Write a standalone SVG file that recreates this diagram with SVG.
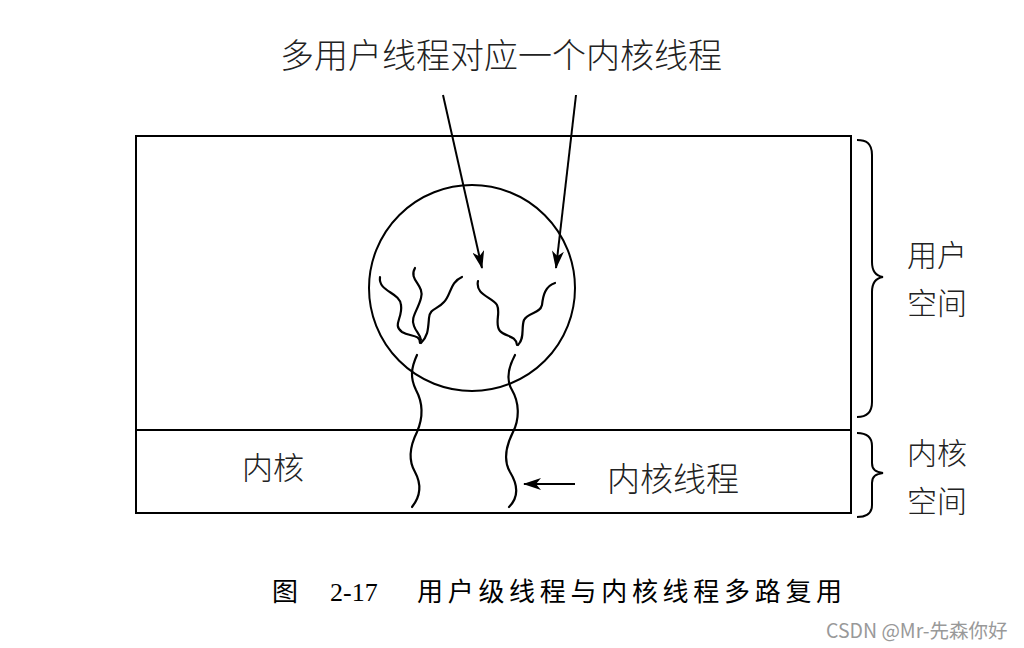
<svg xmlns="http://www.w3.org/2000/svg" width="1024" height="648" viewBox="0 0 1024 648">
<style>
.ln{fill:none;stroke:#000;stroke-width:2}
.th{fill:none;stroke:#000;stroke-width:2.2;stroke-linecap:round}
.t{font-family:"Noto Sans CJK SC","Noto Sans",sans-serif;fill:#222;font-weight:300}
.cap{font-family:"Liberation Serif","Noto Sans CJK SC",serif;fill:#000}
</style>
<defs>
<marker id="ah" markerWidth="18" markerHeight="12" refX="17" refY="6" orient="auto" markerUnits="userSpaceOnUse">
<path d="M0,0 L18,6 L0,12 L5,6 Z" fill="#000"/>
</marker>
</defs>
<rect width="1024" height="648" fill="#fff"/>
<g id="user-space">
<rect x="136" y="136" width="715" height="294" class="ln"/>
</g>
<g id="kernel-space">
<rect x="136" y="430" width="715" height="83" class="ln"/>
<text x="242" y="479" class="t" font-size="31">内核</text>
</g>
<g id="process-circle">
<circle cx="472" cy="288" r="103" class="ln"/>
</g>
<g id="user-threads">
<path class="th" d="M380,277 C378,292 400,292 401,305 C403,318 392,325 402,332 C410,337 420,334 420,343"/>
<path class="th" d="M415,268 C408,280 425,285 421,298 C418,310 410,318 414,326 C416,332 420,334 421,340"/>
<path class="th" d="M462,277 C450,282 451,295 444,302 C437,310 430,308 429,318 C428,330 428,336 421,343"/>
<path class="th" d="M478,281 C475,295 492,297 497,305 C501,313 494,324 500,331 C505,337 516,335 517,345"/>
<path class="th" d="M555,283 C545,286 543,296 542,305 C540,314 528,312 524,320 C521,328 525,338 518,345"/>
</g>
<g id="kernel-threads">
<path class="th" d="M417,355 C411,368 410,378 416,390 C423,403 423,418 417,432 C410,446 408,460 415,472 C422,485 420,497 412,507"/>
<path class="th" d="M515,355 C508,368 506,380 512,390 C519,402 520,418 513,432 C506,446 503,460 510,472 C518,485 519,497 509,507"/>
</g>
<g id="title">
<text x="501" y="68" class="t" font-size="34" text-anchor="middle">多用户线程对应一个内核线程</text>
</g>
<g id="kernel-thread-label">
<text x="607" y="491" class="t" font-size="33">内核线程</text>
</g>
<g id="connectors">
<line x1="443" y1="95" x2="482" y2="268" class="ln" marker-end="url(#ah)"/>
<line x1="576" y1="95" x2="556" y2="268" class="ln" marker-end="url(#ah)"/>
<line x1="575" y1="484" x2="524" y2="484" class="ln" marker-end="url(#ah)"/>
</g>
<g id="brace-user">
<path class="ln" stroke-width="1.8" d="M857,140 C866,140 872,143 872,155 L872,262 C872,272 876,276 883,277 C876,278 872,282 872,292 L872,402 C872,413 866,417 857,417"/>
<text x="907" y="266" class="t" font-size="30">用户</text>
<text x="907" y="314" class="t" font-size="30">空间</text>
</g>
<g id="brace-kernel">
<path class="ln" stroke-width="1.8" d="M857,433 C866,433 872,436 872,446 L872,463 C872,470 876,472 883,473 C876,474 872,476 872,483 L872,505 C872,514 866,517 857,517"/>
<text x="907" y="464" class="t" font-size="30">内核</text>
<text x="907" y="512" class="t" font-size="30">空间</text>
</g>
<g id="caption">
<text x="272" y="601" class="cap" font-size="26">图</text>
<text x="330" y="601" class="cap" font-size="26">2-17</text>
<text x="417" y="601" class="cap" font-size="26" letter-spacing="4.7">用户级线程与内核线程多路复用</text>
</g>
<g id="watermark">
<text x="826" y="638" font-family="Noto Sans CJK SC,Noto Sans,sans-serif" font-size="19.5" fill="#999">CSDN @Mr-先森你好</text>
</g>
</svg>
